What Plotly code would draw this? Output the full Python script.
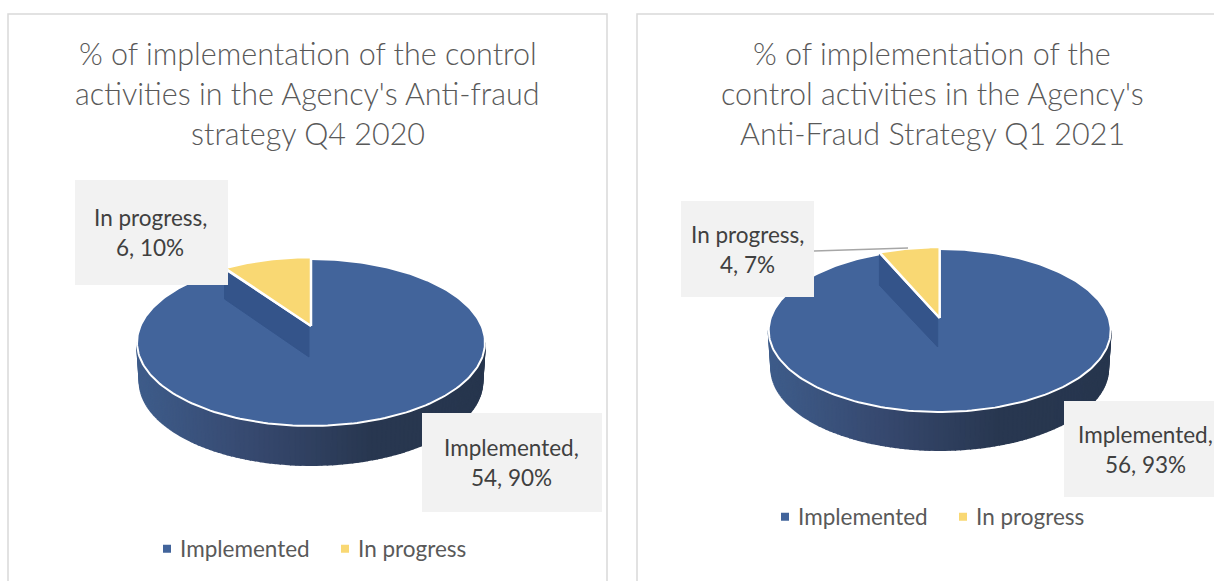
import math
import plotly.graph_objects as go

categories = ["Implemented", "In progress"]
values_q4 = [54, 6]
values_q1 = [56, 4]
title_q4 = ["% of implementation of the control", "activities in the Agency's Anti-fraud", "strategy Q4 2020"]
title_q1 = ["% of implementation of the", "control activities in the Agency's", "Anti-Fraud Strategy Q1 2021"]

BLUE = "#42649b"
YELLOW = "#f9d873"
WALL = "#34548a"
GREY = "#595959"
FONT = "Lato"
W, H = 1214, 581


def mix(stops, t):
    n = len(stops) - 1
    i = min(int(t * n), n - 1)
    f = t * n - i
    a, b = stops[i], stops[i + 1]
    return "rgb(%d,%d,%d)" % tuple(round(a[j] + (b[j] - a[j]) * f) for j in range(3))


SIDE = [(62, 92, 138), (54, 72, 110), (40, 55, 80), (39, 54, 78)]


def pie(fig, values, cx, apex, top, bottom, half_w, depth, notch):
    k = ((bottom - apex) - (apex - top)) / ((bottom - apex) + (apex - top))
    S = (apex - top) * (1 + k)
    R = half_w * math.sqrt(1 - k * k)

    def pt(theta, r=1.0, dy=0.0, sx=1.0):
        a, b = math.sin(theta) * r, math.cos(theta) * r
        w = 1 + k * b
        return cx + sx * R * a / w, apex - S * b / w + dy

    def add(pts, color, line=None, lw=0):
        fig.add_trace(go.Scatter(
            x=[p[0] for p in pts], y=[p[1] for p in pts], mode="lines",
            fill="toself", fillcolor=color,
            line=dict(color=line or color, width=lw or 1),
            showlegend=False, hoverinfo="skip"))

    slice_angle = 2 * math.pi * values[1] / sum(values)
    # outer side wall, as one shaded polygon per small step along the visible rim
    n = 110
    t_start = math.acos(-k)
    t_span = 2 * (math.pi - t_start)
    thetas = [t_start + t_span * i / n for i in range(n + 1)]
    pairs = sorted(thetas, key=lambda t: pt(t)[0])
    for t0, t1 in zip(pairs[:-1], pairs[1:]):
        frac = (pt(t0)[0] - (cx - half_w)) / (2 * half_w)
        col = mix(SIDE, max(0, min(1, frac)))
        add([pt(t0), pt(t1), pt(t1, dy=depth, sx=0.985), pt(t0, dy=depth, sx=0.985)], col, col, 2)
    # top surface of the large slice
    m = 240
    arc = [pt(i * (2 * math.pi - slice_angle) / m) for i in range(m + 1)]
    add(arc + [pt(0, r=0)], BLUE, "#ffffff", 2)
    # inner wall of the notch
    tip = pt(-slice_angle)
    ctr = pt(0, r=0)
    add([tip, (tip[0], tip[1] + notch[0]), (ctr[0] - 2, ctr[1] + notch[1]), (ctr[0] - 2, ctr[1])], WALL)
    # the small slice
    arc = [pt(-slice_angle + i * slice_angle / 40, dy=-2) for i in range(41)]
    add([(ctr[0], ctr[1])] + arc + [(ctr[0], ctr[1])], YELLOW, "#ffffff", 2.5)


fig = go.Figure()

# chart cards
for x0, x1 in ((8, 607), (637, 1240)):
    fig.add_shape(type="rect", x0=x0, x1=x1, y0=14, y1=620,
                  line=dict(color="#d9d9d9", width=1.5), fillcolor="#ffffff", layer="below")

pie(fig, values_q4, 311, 326, 259, 426, 174, 39, (29, 31))
pie(fig, values_q1, 939.7, 318, 249, 412, 171, 38, (31, 29))

# leader line of the Q1 label
fig.add_trace(go.Scatter(x=[814, 908], y=[251, 248], mode="lines",
                         line=dict(color="#a6a6a6", width=1.5),
                         showlegend=False, hoverinfo="skip"))


def text(x, y, s, size, color=GREY, weight=400):
    fig.add_annotation(x=x, y=y, text=s, showarrow=False, xanchor="center", yanchor="middle",
                       font=dict(family=FONT, size=size, color=color, weight=weight))


def label(box, cat, val, total, shift=0):
    x0, x1, y0, y1 = box
    fig.add_shape(type="rect", x0=x0, x1=x1, y0=y0, y1=y1, fillcolor="#f2f2f2",
                  line=dict(width=0), layer="above")
    xc = (x0 + x1) / 2 + shift
    yc = (y0 + y1) / 2
    text(xc, yc - 15, f"{cat},", 22.5, "#404040")
    text(xc, yc + 15, f"{val}, {round(100 * val / total)}%", 22.5, "#404040")


label((75, 228, 180, 285), categories[1], values_q4[1], sum(values_q4), -1.5)
label((422, 602, 413, 512), categories[0], values_q4[0], sum(values_q4), -1)
label((681, 814, 201, 297), categories[1], values_q1[1], sum(values_q1))
label((1064, 1214, 401, 497), categories[0], values_q1[0], sum(values_q1), 6)

for i, line in enumerate(title_q4):
    text(307.5, 52.5 + 40 * i, line, 30.5, weight=300)
for i, line in enumerate(title_q1):
    text(932, 52.5 + 40 * i, line, 30.5, weight=300)

# legends
for lg in ("legend", "legend2"):
    for cat, col in zip(categories, (BLUE, YELLOW)):
        fig.add_trace(go.Scatter(x=[None], y=[None], mode="markers", name=cat, legend=lg,
                                 marker=dict(symbol="square", size=8, color=col),
                                 hoverinfo="skip"))

common = dict(orientation="h", xanchor="left", yanchor="middle", bgcolor="rgba(0,0,0,0)",
              font=dict(family=FONT, size=22.5, color=GREY), itemwidth=30,
              entrywidth=133, entrywidthmode="pixels", traceorder="normal")
fig.update_layout(
    width=W, height=H, autosize=False,
    margin=dict(l=0, r=0, t=0, b=0),
    paper_bgcolor="#ffffff", plot_bgcolor="#ffffff",
    xaxis=dict(range=[0, W], visible=False, fixedrange=True),
    yaxis=dict(range=[H, 0], visible=False, fixedrange=True),
    legend=dict(x=140 / W, y=1 - 549 / H, **common),
    legend2=dict(x=758 / W, y=1 - 517 / H, **common),
)

fig.write_html("out.html", config=dict(displayModeBar=False),
               post_script="document.body.style.margin='0';document.body.style.overflow='hidden';"
                           "document.querySelectorAll('.legendsymbols').forEach(function(e){"
                           "e.setAttribute('transform','translate(7,0)');});")
